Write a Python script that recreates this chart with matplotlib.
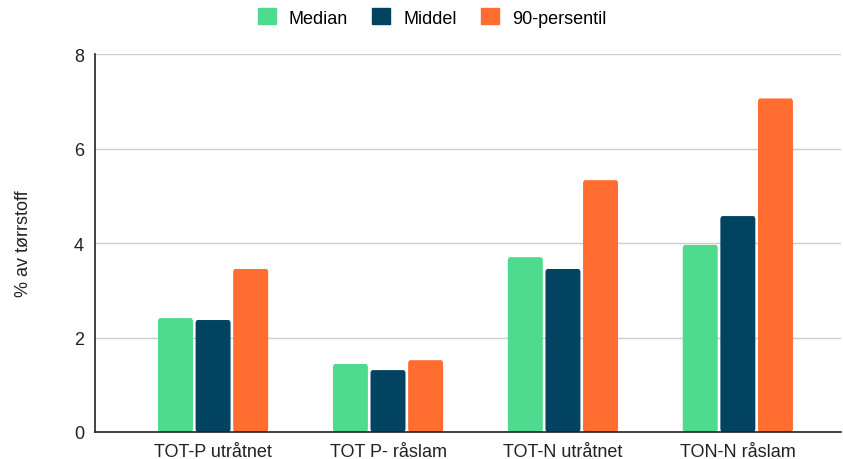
import numpy as np
import matplotlib.pyplot as plt
from matplotlib.patches import FancyBboxPatch

plt.rcParams['font.family'] = ['Liberation Sans', 'DejaVu Sans']

categories = ["TOT-P utråtnet", "TOT P- råslam", "TOT-N utråtnet", "TON-N råslam"]
median = [2.41, 1.44, 3.70, 3.96]
middel = [2.37, 1.31, 3.45, 4.57]
persentil90 = [3.45, 1.52, 5.33, 7.06]

series = [("Median", median, "#4fdb8d"),
          ("Middel", middel, "#014361"),
          ("90-persentil", persentil90, "#ff6d31")]

fig = plt.figure(figsize=(8.43, 4.6), dpi=100)
ax = fig.add_axes([0.1127, 0.0587, 0.885, 0.8217])

x = np.arange(len(categories))
width = 0.2
step = 0.215
for i, (name, vals, color) in enumerate(series):
    bars = ax.bar(x + (i - 1) * step, vals, width, color=color, label=name, zorder=3)
    # round the bar corners slightly
    for b in bars:
        b.set_visible(False)
        p = FancyBboxPatch((b.get_x(), 0), b.get_width(), b.get_height(),
                           boxstyle="round,pad=0,rounding_size=0.012",
                           mutation_aspect=6, facecolor=color, edgecolor="none",
                           zorder=3)
        ax.add_patch(p)

ax.set_ylim(0, 8)
ax.set_xlim(-0.675, 3.59)
ax.set_yticks([0, 2, 4, 6, 8])
ax.set_xticks(x)
ax.set_xticklabels(categories)
ax.tick_params(axis='both', length=0, labelsize=13, colors="#222222", pad=8)
ax.yaxis.grid(True, color="#cccccc", linewidth=1, zorder=0)
ax.set_axisbelow(True)
for s in ["top", "right"]:
    ax.spines[s].set_visible(False)
for s in ["left", "bottom"]:
    ax.spines[s].set_color("#222222")
    ax.spines[s].set_linewidth(1.2)
ax.spines["bottom"].set_zorder(4)

ax.set_ylabel("% av tørrstoff", fontsize=13, color="#222222", labelpad=30)

handles = [plt.Rectangle((0, 0), 1, 1, color=c) for _, _, c in series]
fig.legend(handles, [n for n, _, _ in series], loc="center", bbox_to_anchor=(0.5125, 0.96),
           ncol=3, frameon=False, fontsize=13, handlelength=1.0, handleheight=1.0,
           handletextpad=0.7, columnspacing=1.35)

fig.savefig("out.png", dpi=100)
